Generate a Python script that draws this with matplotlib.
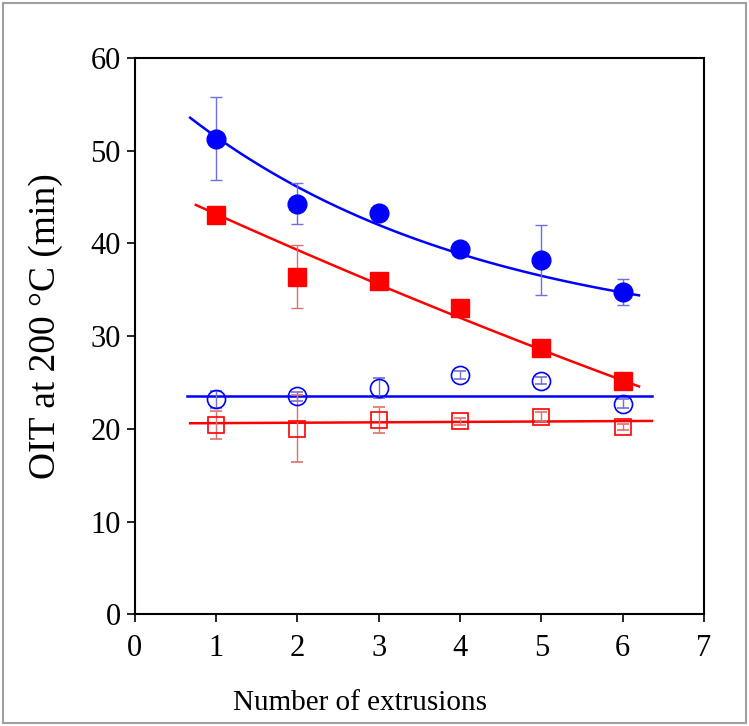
import matplotlib
matplotlib.use("Agg")
import matplotlib.pyplot as plt
from matplotlib.patches import Rectangle
import numpy as np

# extrusion passes
extrusions = [1, 2, 3, 4, 5, 6]

# filled circles (blue)
oit_fc = [51.3, 44.3, 43.3, 39.4, 38.2, 34.8]
err_fc = [4.5, 2.2, 0.4, 0.4, 3.8, 1.4]
# filled squares (red)
oit_fs = [43.1, 36.4, 35.9, 33.0, 28.7, 25.2]
err_fs = [0.4, 3.4, 0.3, 0.3, 0.4, 0.3]
# open circles (blue)
oit_oc = [23.2, 23.5, 24.4, 25.8, 25.2, 22.7]
err_oc = [0.9, 0.5, 1.1, 0.4, 0.4, 0.5]
# open squares (red)
oit_os = [20.4, 20.0, 21.0, 20.8, 21.3, 20.2]
err_os = [1.5, 3.6, 1.4, 0.4, 0.5, 0.3]

# fitted trend lines, parameters
fit_fc = {"offset": 29.0, "amp": 22.5, "ratio": 0.76, "x_range": (0.68, 6.2)}   # y = offset + amp*ratio**(x-1)
fit_fs = {"coef": [0.07, -4.08, 47.18], "x_range": (0.75, 6.2)}                # quadratic
fit_oc = {"ends": [23.5, 23.5], "x_range": (0.64, 6.36)}
fit_os = {"ends": [20.6, 20.85], "x_range": (0.68, 6.36)}

BLUE = "#0000ff"
RED = "#ff0000"
BLUE_ERR = "#7070d8"
RED_ERR = "#e07070"

plt.rcParams["font.family"] = ["Liberation Serif", "DejaVu Serif"]

fig = plt.figure(figsize=(7.49, 7.26), dpi=100)
ax = fig.add_axes([0.180, 0.154, 0.760, 0.766])

# outer grey frame
fig.patches.append(Rectangle((0.004, 0.004), 0.992, 0.992, transform=fig.transFigure,
                             fill=False, edgecolor="#a0a0a0", linewidth=1.5))

x = np.array(extrusions)

# trend curves
xs = np.linspace(*fit_fc["x_range"], 100)
ax.plot(xs, fit_fc["offset"] + fit_fc["amp"] * fit_fc["ratio"] ** (xs - 1),
        color=BLUE, lw=1.8, zorder=2)
xs = np.linspace(*fit_fs["x_range"], 100)
ax.plot(xs, np.polyval(fit_fs["coef"], xs), color=RED, lw=1.8, zorder=2)
ax.plot(fit_oc["x_range"], fit_oc["ends"], color=BLUE, lw=1.8, zorder=2)
ax.plot(fit_os["x_range"], fit_os["ends"], color=RED, lw=1.8, zorder=2)

# data points with error bars
ax.errorbar(x, oit_fc, yerr=err_fc, fmt="o", ms=13.5, mfc=BLUE, mec=BLUE,
            ecolor=BLUE_ERR, elinewidth=1, capsize=4, capthick=1, zorder=3)
ax.errorbar(x, oit_fs, yerr=err_fs, fmt="s", ms=13, mfc=RED, mec=RED,
            ecolor=RED_ERR, elinewidth=1, capsize=4, capthick=1, zorder=3)
ax.errorbar(x, oit_oc, yerr=err_oc, fmt="o", ms=13, mfc="none", mec=BLUE, mew=1.2,
            ecolor=BLUE_ERR, elinewidth=1, capsize=4, capthick=1, zorder=3)
ax.errorbar(x, oit_os, yerr=err_os, fmt="s", ms=12, mfc="none", mec=RED, mew=1.2,
            ecolor=RED_ERR, elinewidth=1, capsize=4, capthick=1, zorder=3)

ax.set_xlim(0, 7)
ax.set_ylim(0, 60)
ax.set_xticks(range(0, 8))
ax.set_yticks(range(0, 61, 10))
ax.tick_params(direction="out", length=6, width=1.2, labelsize=22)
ax.tick_params(axis="x", pad=8)
ax.tick_params(axis="y", pad=4)
for s in ax.spines.values():
    s.set_linewidth(1.5)

fig.text(360 / 749, 1 - 710 / 726, "Number of extrusions", fontsize=21,
         ha="center", va="baseline")
fig.text(46 / 749, 1 - 326 / 726, "OIT at 200 °C (min)", fontsize=27,
         rotation=90, ha="center", va="center")

fig.savefig("out.png", dpi=100)
